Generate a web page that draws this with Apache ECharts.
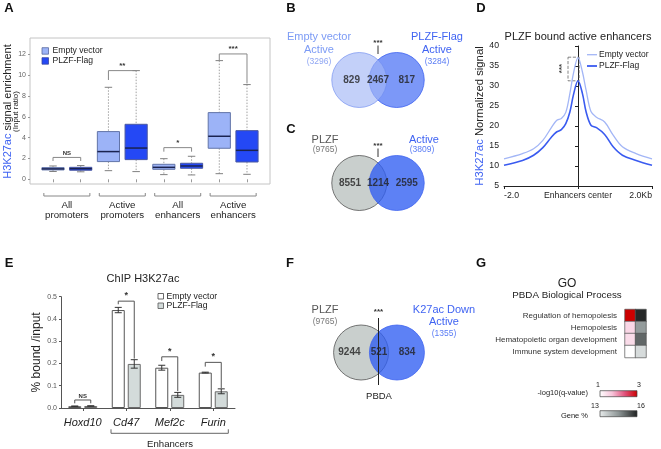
<!DOCTYPE html>
<html><head><meta charset="utf-8">
<script src="https://cdn.jsdelivr.net/npm/echarts@6.0.0/dist/echarts.min.js"></script>
<style>html,body{margin:0;padding:0;background:#fff}#c{width:661px;height:449px}</style>
</head><body><div id="c"></div>
<script>
// ================= DATA =================
// Panel A : box statistics [min, q1, median, q3, max]
const groupsA = ['All\npromoters', 'Active\npromoters', 'All\nenhancers', 'Active\nenhancers'];
const emptyBoxA = [[0.75, 0.9, 1.0, 1.12, 1.28], [0.83, 1.7, 2.66, 4.58, 8.83], [0.45, 0.96, 1.15, 1.44, 1.98], [0.54, 2.98, 4.13, 6.4, 11.39]];
const plzfBoxA = [[0.72, 0.87, 1.02, 1.15, 1.32], [0.74, 1.89, 3.0, 5.28, 10.43], [0.42, 1.06, 1.28, 1.54, 2.21], [0.48, 1.66, 2.78, 4.67, 9.09]];
const yTicksA = [0, 2, 4, 6, 8, 10, 12];
// significance brackets A: [x1, x2, top, leftEnd, rightEnd]
const sigA = [[1, 2, 2.1, 1.76, 1.76], [3, 4, 10.43, 9.53, 10.43], [5, 6, 3.04, 2.65, 2.65], [7, 8, 12.03, 11.4, 9.2]];
const sigALabels = ['NS', '**', '*', '***'];

// Venn diagrams
const vennBCounts = [829, 2467, 817];
const vennCCounts = [8551, 1214, 2595];
const vennFCounts = [9244, 521, 834];

// Panel D : profile
const dX = [-2, -1.5, -1.2, -0.95, -0.72, -0.58, -0.45, -0.33, -0.22, -0.12, 0, 0.12, 0.22, 0.35, 0.5, 0.72, 0.95, 1.2, 1.57, 2];
const dEmpty = [11.8, 13.1, 14.3, 16.4, 19.6, 21.4, 21.9, 23.4, 28.1, 33.3, 37.1, 33.5, 28.9, 23.6, 22.2, 21.0, 17.7, 14.8, 13.1, 11.8];
const dPlzf = [10.2, 11.4, 12.7, 14.6, 17.2, 18.5, 19.1, 20.6, 23.5, 27.9, 31.3, 28.1, 23.5, 20.2, 19.6, 17.9, 14.8, 12.7, 11.4, 10.2];
const dXTickLabels = {'-2': '-2.0', '0': 'Enhancers center', '2': '2.0Kb'};
const dBox = [[-0.27, 37.2], [0.03, 31.3]];

// Panel E : ChIP
const eGenes = ['Hoxd10', 'Cd47', 'Mef2c', 'Furin'];
const eEmpty = [0.008, 0.44, 0.181, 0.159];
const eEmptyErr = [0.001, 0.012, 0.011, 0.002];
const ePlzf = [0.009, 0.198, 0.059, 0.075];
const ePlzfErr = [0.001, 0.019, 0.011, 0.011];
const eSig = [[0, 0.036, 0.021, 0.021], [1, 0.48, 0.466, 0.222], [2, 0.23, 0.211, 0.076], [3, 0.205, 0.186, 0.09]];
const eSigLabels = ['NS', '*', '*', '*'];

// Panel G : GO heatmap
const gTerms = ['Regulation of hemopoiesis', 'Hemopoiesis', 'Hematopoietic organ development', 'Immune system development'];
const gLogQ = [3.0, 1.45, 1.4, 1.0];
const gGenePct = [15.9, 14.4, 15.1, 13.3];

// ================= CHART =================
const FONT = '"Liberation Sans", Arial, Helvetica, sans-serif';
const LIGHT = '#9cb3f7', DARK = '#2448f5', BLUE_TXT = '#3f63f2';
const chart = echarts.init(document.getElementById('c'), null, {renderer: 'canvas', width: 661, height: 449});

function boxRender(fill, stroke) {
  return function (params, api) {
    const x = api.value(0);
    const v = [1, 2, 3, 4, 5].map(i => api.value(i));
    const p = v.map(val => api.coord([x, val]));
    const hw = api.size([0.8, 0])[0] / 2;
    const cw = api.size([0.27, 0])[0] / 2;
    const cx = p[0][0];
    const ws = {stroke: '#8a8a8a', lineWidth: 0.8, lineDash: [1.5, 1.5]};
    const cs = {stroke: '#808080', lineWidth: 1};
    return {type: 'group', children: [
      {type: 'line', shape: {x1: cx, y1: p[4][1], x2: cx, y2: p[3][1]}, style: ws},
      {type: 'line', shape: {x1: cx, y1: p[1][1], x2: cx, y2: p[0][1]}, style: ws},
      {type: 'line', shape: {x1: cx - cw, y1: p[4][1], x2: cx + cw, y2: p[4][1]}, style: cs},
      {type: 'line', shape: {x1: cx - cw, y1: p[0][1], x2: cx + cw, y2: p[0][1]}, style: cs},
      {type: 'rect', shape: {x: cx - hw, y: p[3][1], width: 2 * hw, height: p[1][1] - p[3][1]}, style: {fill: fill, stroke: stroke, lineWidth: 1}},
      {type: 'line', shape: {x1: cx - hw, y1: p[2][1], x2: cx + hw, y2: p[2][1]}, style: {stroke: '#1a2350', lineWidth: 1.5}}
    ]};
  };
}

const vennAxisX = i => ({gridIndex: i, type: 'value', min: -2.5, max: 2.5, show: false});
const vennAxisY = i => ({gridIndex: i, type: 'value', min: -1, max: 1, show: false});
function vennNumbers(idx, counts, xs) {
  return {type: 'scatter', xAxisIndex: idx, yAxisIndex: idx, silent: true, symbolSize: 2,
    itemStyle: {color: 'rgba(0,0,0,0)'},
    data: counts.map((c, i) => [xs[i], 0, c]),
    label: {show: true, position: 'inside', formatter: p => String(p.value[2]), fontSize: 10, fontWeight: 'bold', color: '#222', fontFamily: FONT},
    labelLayout: {hideOverlap: false},
    z: 10};
}

const txt = (x, y, text, o = {}) => ({type: 'text', x: x, y: y, silent: true, z: 50, rotation: o.rotation || 0,
  style: {text: text, fontSize: o.size || 10, fontFamily: FONT, fontWeight: o.weight || 'normal', fill: o.color || '#222',
    align: o.align || 'center', verticalAlign: o.va || 'middle', rich: o.rich}});
const rect = (x, y, w, h, fill, stroke, lw) => ({type: 'rect', silent: true, z: 50, shape: {x: x, y: y, width: w, height: h}, style: {fill: fill, stroke: stroke, lineWidth: lw || 0.8}});
const line = (pts, color, lw, dash) => ({type: 'polyline', silent: true, z: 50, shape: {points: pts}, style: {stroke: color, lineWidth: lw || 1, fill: null, lineDash: dash || null}});

const option = {
  animation: false,
  textStyle: {fontFamily: FONT},
  grid: [
    {left: 30, top: 38, width: 240, height: 146, show: true, borderColor: '#c4c4c4', borderWidth: 1, outerBoundsMode: 'none'},
    {left: 504, top: 46, width: 148, height: 140, outerBoundsMode: 'none'},
    {left: 61, top: 296.7, width: 174, height: 111.3, outerBoundsMode: 'none'},
    {left: 625, top: 309.5, width: 21, height: 48, outerBoundsMode: 'none'},
    {left: 338, top: 60, width: 80, height: 40, outerBoundsMode: 'none'},
    {left: 338, top: 163, width: 80, height: 40, outerBoundsMode: 'none'},
    {left: 339, top: 332.5, width: 80, height: 40, outerBoundsMode: 'none'}
  ],
  xAxis: [
    {gridIndex: 0, type: 'value', min: 0.17, max: 8.83, axisLine: {show: false}, splitLine: {show: false},
      axisLabel: {show: false}, axisTick: {show: true, customValues: [1, 2, 3, 4, 5, 6, 7, 8], length: 3, lineStyle: {color: '#999'}}},
    {gridIndex: 1, type: 'value', min: -2, max: 2, interval: 2, splitLine: {show: false},
      axisLine: {show: true, lineStyle: {color: '#222'}}, axisTick: {show: true, length: 3, lineStyle: {color: '#222'}},
      axisLabel: {fontSize: 8.7, color: '#222', margin: 5, alignMinLabel: 'left', alignMaxLabel: 'right', formatter: v => dXTickLabels[String(v)]}},
    {gridIndex: 2, type: 'category', data: eGenes, axisLine: {show: true, lineStyle: {color: '#555'}},
      axisTick: {show: true, alignWithLabel: true, length: 3, lineStyle: {color: '#555'}},
      axisLabel: {interval: 0, hideOverlap: false, fontStyle: 'italic', fontSize: 11, color: '#222', margin: 9}},
    {gridIndex: 3, type: 'category', data: ['q', 'g'], show: false},
    vennAxisX(4), vennAxisX(5), vennAxisX(6)
  ],
  yAxis: [
    {gridIndex: 0, type: 'value', min: -0.45, max: 13.56, splitLine: {show: false}, axisLine: {show: false},
      axisTick: {show: true, customValues: yTicksA, length: 2, lineStyle: {color: '#999'}},
      axisLabel: {customValues: yTicksA, fontSize: 7, color: '#666', margin: 4}},
    {gridIndex: 1, type: 'value', min: 5, max: 40, interval: 5, splitLine: {show: false},
      axisLine: {show: true, lineStyle: {color: '#222'}}, axisTick: {show: true, length: 3, lineStyle: {color: '#222'}},
      axisLabel: {fontSize: 8.7, color: '#222', margin: 5},
      name: '{b|H3K27ac} Normalized signal', nameLocation: 'middle', nameGap: 17,
      nameTextStyle: {fontSize: 11.3, color: '#222', rich: {b: {fontSize: 11.3, color: BLUE_TXT}}}},
    {gridIndex: 2, type: 'value', min: 0, max: 0.5, interval: 0.1, splitLine: {show: false},
      axisLine: {show: true, lineStyle: {color: '#555'}}, axisTick: {show: true, length: 2, lineStyle: {color: '#555'}},
      axisLabel: {fontSize: 7, color: '#555', margin: 4, formatter: v => v.toFixed(1)},
      name: '% bound /input', nameLocation: 'middle', nameGap: 18, nameTextStyle: {fontSize: 12, color: '#222'}},
    {gridIndex: 3, type: 'category', data: gTerms, inverse: true, axisLine: {show: false}, axisTick: {show: false},
      axisLabel: {interval: 0, fontSize: 8, color: '#333', margin: 8}},
    vennAxisY(4), vennAxisY(5), vennAxisY(6)
  ],
  visualMap: [
    {show: false, seriesIndex: 10, dimension: 2, min: 1, max: 3, inRange: {color: ['#ffffff', '#f7c4da', '#e0507a', '#cc0000']}},
    {show: false, seriesIndex: 11, dimension: 2, min: 13, max: 16, inRange: {color: ['#e8ecec', '#8e9696', '#1e2020']}}
  ],
  series: [
    // 0,1 boxplots A
    {type: 'custom', name: 'Empty vector', xAxisIndex: 0, yAxisIndex: 0, renderItem: boxRender(LIGHT, '#6274a8'),
      encode: {x: 0, y: [1, 2, 3, 4, 5]}, data: emptyBoxA.map((s, i) => [2 * i + 1].concat(s)), z: 3},
    {type: 'custom', name: 'PLZF-Flag', xAxisIndex: 0, yAxisIndex: 0, renderItem: boxRender(DARK, '#4a58a0'),
      encode: {x: 0, y: [1, 2, 3, 4, 5]}, data: plzfBoxA.map((s, i) => [2 * i + 2].concat(s)), z: 3},
    // 2 significance A
    {type: 'custom', xAxisIndex: 0, yAxisIndex: 0, silent: true, encode: {x: [0, 1], y: [2, 3, 4]}, data: sigA, z: 4,
      renderItem: function (params, api) {
        const x1 = api.value(0), x2 = api.value(1), top = api.value(2);
        const pL = api.coord([x1, top]), pR = api.coord([x2, top]);
        const yl = api.coord([x1, api.value(3)])[1], yr = api.coord([x2, api.value(4)])[1];
        const lab = sigALabels[params.dataIndex];
        return {type: 'group', children: [
          {type: 'polyline', shape: {points: [[pL[0], yl], [pL[0], pL[1]], [pR[0], pR[1]], [pR[0], yr]]}, style: {stroke: '#888', lineWidth: 1, fill: null}},
          {type: 'text', x: (pL[0] + pR[0]) / 2, y: pL[1] - 1, style: {text: lab, fontSize: lab === 'NS' ? 6 : 8, fontWeight: 'bold', fontFamily: FONT, fill: '#333', align: 'center', verticalAlign: 'bottom'}}
        ]};
      }},
    // 3 group brackets under A
    {type: 'custom', xAxisIndex: 0, yAxisIndex: 0, silent: true, encode: {x: 0}, data: groupsA.map((g, i) => [2 * i + 1.5]), z: 4,
      renderItem: function (params, api) {
        const c = api.value(0);
        const pl = api.coord([c - 0.83, -0.45]), pr = api.coord([c + 0.83, -0.45]);
        const y0 = pl[1];
        return {type: 'group', children: [
          {type: 'polyline', shape: {points: [[pl[0], y0 + 9], [pl[0], y0 + 12], [pr[0], y0 + 12], [pr[0], y0 + 9]]}, style: {stroke: '#888', lineWidth: 1, fill: null}},
          {type: 'text', x: (pl[0] + pr[0]) / 2, y: y0 + 15.7, style: {text: groupsA[params.dataIndex], fontSize: 9.7, lineHeight: 10.5, fontFamily: FONT, fill: '#222', align: 'center', verticalAlign: 'top'}}
        ]};
      }},
    // 4,5 D profile lines
    {type: 'line', name: 'Empty vector', xAxisIndex: 1, yAxisIndex: 1, data: dX.map((x, i) => [x, dEmpty[i]]), smooth: 0.35, symbol: 'none',
      lineStyle: {color: '#a3b6f6', width: 1.3}, z: 3},
    {type: 'line', name: 'PLZF-Flag', xAxisIndex: 1, yAxisIndex: 1, data: dX.map((x, i) => [x, dPlzf[i]]), smooth: 0.35, symbol: 'none',
      lineStyle: {color: '#3a5bf0', width: 1.6}, z: 4,
      markArea: {silent: true, itemStyle: {color: 'rgba(0,0,0,0)', borderColor: '#666', borderWidth: 0.8, borderType: 'dashed'},
        data: [[{coord: dBox[0]}, {coord: dBox[1]}]]}},
    // 6,7 E bars
    {type: 'bar', name: 'Empty vector', xAxisIndex: 2, yAxisIndex: 2, data: eEmpty, barWidth: 13, barGap: '23%',
      itemStyle: {color: '#ffffff', borderColor: '#555', borderWidth: 1}},
    {type: 'bar', name: 'PLZF-Flag', xAxisIndex: 2, yAxisIndex: 2, data: ePlzf, barWidth: 13, barGap: '23%',
      itemStyle: {color: '#d3dbda', borderColor: '#6a6a6a', borderWidth: 1}},
    // 8 E error bars
    {type: 'custom', xAxisIndex: 2, yAxisIndex: 2, silent: true, encode: {x: 0, y: 1}, z: 5,
      data: eEmpty.map((v, i) => [i, v, eEmptyErr[i], -1]).concat(ePlzf.map((v, i) => [i, v, ePlzfErr[i], 1])),
      renderItem: function (params, api) {
        const i = api.value(0), v = api.value(1), e = api.value(2), side = api.value(3);
        const x = api.coord([i, v])[0] + side * 8;
        const yH = api.coord([i, v + e])[1], yL = api.coord([i, v - e])[1];
        const s = {stroke: '#333', lineWidth: 1};
        return {type: 'group', children: [
          {type: 'line', shape: {x1: x, y1: yH, x2: x, y2: yL}, style: s},
          {type: 'line', shape: {x1: x - 3.5, y1: yH, x2: x + 3.5, y2: yH}, style: s},
          {type: 'line', shape: {x1: x - 3.5, y1: yL, x2: x + 3.5, y2: yL}, style: s}
        ]};
      }},
    // 9 E significance
    {type: 'custom', xAxisIndex: 2, yAxisIndex: 2, silent: true, encode: {x: 0, y: [1, 2, 3]}, data: eSig, z: 5,
      renderItem: function (params, api) {
        const i = api.value(0);
        const pT = api.coord([i, api.value(1)]);
        const xl = pT[0] - 8, xr = pT[0] + 8;
        const yl = api.coord([i, api.value(2)])[1], yr = api.coord([i, api.value(3)])[1];
        const lab = eSigLabels[params.dataIndex];
        return {type: 'group', children: [
          {type: 'polyline', shape: {points: [[xl, yl], [xl, pT[1]], [xr, pT[1]], [xr, yr]]}, style: {stroke: '#555', lineWidth: 1, fill: null}},
          {type: 'text', x: pT[0], y: pT[1] - 1, style: {text: lab, fontSize: lab === 'NS' ? 6 : 9, fontWeight: 'bold', fontFamily: FONT, fill: '#333', align: 'center', verticalAlign: 'bottom'}}
        ]};
      }},
    // 10,11 G heatmap
    {type: 'heatmap', xAxisIndex: 3, yAxisIndex: 3, data: gLogQ.map((v, i) => [0, i, v]), itemStyle: {borderColor: '#555', borderWidth: 0.7}, emphasis: {disabled: true}},
    {type: 'heatmap', xAxisIndex: 3, yAxisIndex: 3, data: gGenePct.map((v, i) => [1, i, v]), itemStyle: {borderColor: '#555', borderWidth: 0.7}, emphasis: {disabled: true}},
    // 12,13 Venn B
    {type: 'scatter', xAxisIndex: 4, yAxisIndex: 4, silent: true, symbolSize: 55,
      data: [{value: [1.17, 0], itemStyle: {color: '#5b7ef6', borderColor: '#3d62f0', borderWidth: 1}},
             {value: [-1.17, 0], itemStyle: {color: '#a3b7f6', opacity: 0.65, borderColor: '#6f8cf0', borderWidth: 1}}]},
    vennNumbers(4, vennBCounts, [-1.65, 0, 1.8]),
    // 14,15 Venn C
    {type: 'scatter', xAxisIndex: 5, yAxisIndex: 5, silent: true, symbolSize: 55,
      data: [{value: [-1.17, 0], itemStyle: {color: '#bcc3c1', borderColor: '#555', borderWidth: 1}},
             {value: [1.17, 0], itemStyle: {color: '#2f5df2', opacity: 0.78, borderColor: '#3d62f0', borderWidth: 1}}]},
    vennNumbers(5, vennCCounts, [-1.75, 0, 1.8]),
    // 16,17 Venn F
    {type: 'scatter', xAxisIndex: 6, yAxisIndex: 6, silent: true, symbolSize: 55,
      data: [{value: [-1.12, 0], itemStyle: {color: '#bcc3c1', borderColor: '#555', borderWidth: 1}},
             {value: [1.12, 0], itemStyle: {color: '#2f5df2', opacity: 0.78, borderColor: '#3d62f0', borderWidth: 1}}]},
    vennNumbers(6, vennFCounts, [-1.85, 0, 1.75])
  ],
  graphic: [
    // panel letters
    txt(9, 8, 'A', {size: 13, weight: 'bold', color: '#111'}),
    txt(291, 8, 'B', {size: 13, weight: 'bold', color: '#111'}),
    txt(291, 129, 'C', {size: 13, weight: 'bold', color: '#111'}),
    txt(481, 8, 'D', {size: 13, weight: 'bold', color: '#111'}),
    txt(9, 263, 'E', {size: 13, weight: 'bold', color: '#111'}),
    txt(290, 263, 'F', {size: 13, weight: 'bold', color: '#111'}),
    txt(481, 263, 'G', {size: 13, weight: 'bold', color: '#111'}),
    // A axis title
    txt(7.5, 111.5, '{b|H3K27ac} signal enrichment', {size: 11, rotation: Math.PI / 2,
      rich: {b: {fill: BLUE_TXT, fontSize: 11, fontFamily: FONT}}}),
    txt(15.5, 111.5, '(Input ratio)', {size: 8, rotation: Math.PI / 2}),
    // A legend
    rect(42, 47.7, 6.5, 6.5, LIGHT, '#5a6aa0'),
    rect(42, 57.7, 6.5, 6.5, DARK, '#3a48a0'),
    txt(52.5, 51, 'Empty vector', {size: 8.6, align: 'left'}),
    txt(52.5, 61, 'PLZF-Flag', {size: 8.6, align: 'left'}),
    // B
    txt(319, 37, 'Empty vector', {size: 11, color: '#7c9bf5'}),
    txt(319, 49.5, 'Active', {size: 11, color: '#7c9bf5'}),
    txt(319, 62, '(3296)', {size: 8.5, color: '#8fa6f3'}),
    txt(437, 37, 'PLZF-Flag', {size: 11, color: BLUE_TXT}),
    txt(437, 49.5, 'Active', {size: 11, color: BLUE_TXT}),
    txt(437, 62, '(3284)', {size: 8.5, color: '#5a7cf5'}),
    txt(378, 42.5, '***', {size: 8, weight: 'bold', color: '#333'}),
    line([[378, 45.5], [378, 54]], '#333', 1),
    // C
    txt(325, 140, 'PLZF', {size: 11, color: '#555'}),
    txt(325, 149.5, '(9765)', {size: 8.5, color: '#777'}),
    txt(424, 140, 'Active', {size: 11, color: BLUE_TXT}),
    txt(422, 149.5, '(3809)', {size: 8.5, color: '#5a7cf5'}),
    txt(378, 145.5, '***', {size: 8, weight: 'bold', color: '#333'}),
    line([[378, 148.5], [378, 157]], '#333', 1),
    // F
    txt(325, 310, 'PLZF', {size: 11, color: '#555'}),
    txt(325, 322, '(9765)', {size: 8.5, color: '#777'}),
    txt(444, 310, 'K27ac Down', {size: 11, color: BLUE_TXT}),
    txt(444, 322.3, 'Active', {size: 11, color: BLUE_TXT}),
    txt(444, 334, '(1355)', {size: 8.5, color: '#5a7cf5'}),
    txt(378.5, 312, '***', {size: 8, weight: 'bold', color: '#333'}),
    line([[378.5, 318], [378.5, 385]], '#222', 1),
    txt(379, 396.5, 'PBDA', {size: 9.5, color: '#222'}),
    // D
    txt(578, 37, 'PLZF bound active enhancers', {size: 11}),
    line([[587, 54.7], [597, 54.7]], '#a3b6f6', 1.3),
    line([[587, 66], [597, 66]], '#3a5bf0', 1.8),
    txt(599, 54.7, 'Empty vector', {size: 8.5, align: 'left'}),
    txt(599, 66, 'PLZF-Flag', {size: 8.5, align: 'left'}),
    txt(562, 68.5, '***', {size: 8, weight: 'bold', color: '#444', rotation: Math.PI / 2}),
    // E
    txt(143, 279, 'ChIP H3K27ac', {size: 11}),
    rect(158, 293.5, 5.5, 5.5, '#ffffff', '#444'),
    rect(158, 303, 5.5, 5.5, '#d3dbda', '#555'),
    txt(166.5, 296.3, 'Empty vector', {size: 8.7, align: 'left'}),
    txt(166.5, 305.8, 'PLZF-Flag', {size: 8.7, align: 'left'}),
    line([[111, 429.3], [111, 433.3], [228.3, 433.3], [228.3, 429.3]], '#666', 1),
    txt(170, 444, 'Enhancers', {size: 9.6}),
    // G
    txt(567, 284, 'GO', {size: 12}),
    txt(567, 295.5, 'PBDA Biological Process', {size: 9.8}),
    {type: 'rect', silent: true, z: 50, shape: {x: 600, y: 390.7, width: 37, height: 6},
      style: {fill: {type: 'linear', x: 0, y: 0, x2: 1, y2: 0, colorStops: [{offset: 0, color: '#ffffff'}, {offset: 0.33, color: '#f7c4da'}, {offset: 0.67, color: '#e0507a'}, {offset: 1, color: '#cc0000'}]}, stroke: '#444', lineWidth: 0.7}},
    {type: 'rect', silent: true, z: 50, shape: {x: 600, y: 410.7, width: 37, height: 6},
      style: {fill: {type: 'linear', x: 0, y: 0, x2: 1, y2: 0, colorStops: [{offset: 0, color: '#e8ecec'}, {offset: 0.5, color: '#8e9696'}, {offset: 1, color: '#1e2020'}]}, stroke: '#444', lineWidth: 0.7}},
    txt(588, 393.3, '-log10(q-value)', {size: 7.5, align: 'right'}),
    txt(588, 415.7, 'Gene %', {size: 7.5, align: 'right'}),
    txt(598, 385.5, '1', {size: 7}),
    txt(639, 385.5, '3', {size: 7}),
    txt(595, 406.5, '13', {size: 7}),
    txt(641, 406.5, '16', {size: 7})
  ]
};
chart.setOption(option);
</script>
</body></html>
